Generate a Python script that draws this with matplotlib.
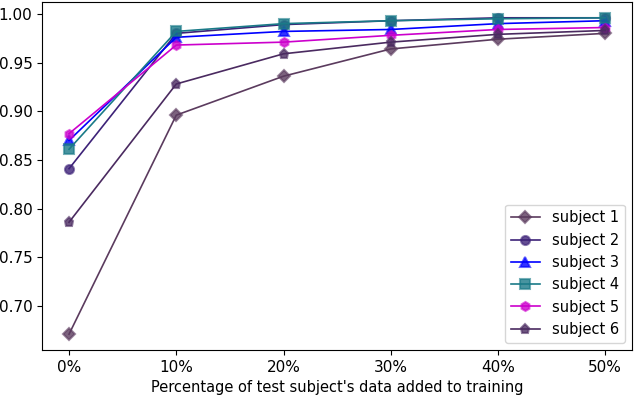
import matplotlib
matplotlib.use("Agg")
import matplotlib.pyplot as plt
from matplotlib.colors import to_rgba

x_labels = ["0%", "10%", "20%", "30%", "40%", "50%"]
subject_1 = [0.671, 0.896, 0.936, 0.964, 0.974, 0.980]
subject_2 = [0.841, 0.980, 0.989, 0.993, 0.996, 0.996]
subject_3 = [0.870, 0.976, 0.982, 0.984, 0.990, 0.993]
subject_4 = [0.861, 0.982, 0.990, 0.993, 0.995, 0.996]
subject_5 = [0.877, 0.968, 0.971, 0.978, 0.984, 0.986]
subject_6 = [0.786, 0.928, 0.959, 0.971, 0.979, 0.983]

series = [
    ("subject 1", subject_1, "#5b3b5e", "D"),
    ("subject 2", subject_2, "#3d2278", "o"),
    ("subject 3", subject_3, "#0000ff", "^"),
    ("subject 4", subject_4, "#1a7a88", "s"),
    ("subject 5", subject_5, "#cc00cc", "h"),
    ("subject 6", subject_6, "#4a2a60", "p"),
]

fig = plt.figure(figsize=(6.4, 3.95), dpi=100)
ax = fig.add_axes([0.066, 0.114, 0.9215, 0.881])

xs = list(range(len(x_labels)))
for name, vals, col, mk in series:
    ax.plot(xs, vals, color=col, marker=mk, markersize=6.5, linewidth=1.2,
            markerfacecolor=to_rgba(col, 0.8), markeredgecolor=to_rgba(col, 0.6),
            markeredgewidth=1.5, label=name)

ax.set_xticks(xs)
ax.set_xticklabels(x_labels)
ax.set_yticks([0.70, 0.75, 0.80, 0.85, 0.90, 0.95, 1.00])
ax.tick_params(labelsize=11)
ax.set_xlabel("Percentage of test subject's data added to training", fontsize=10.5)
ax.legend(loc="lower right", fontsize=10.5)

fig.savefig("out.png", dpi=100)
